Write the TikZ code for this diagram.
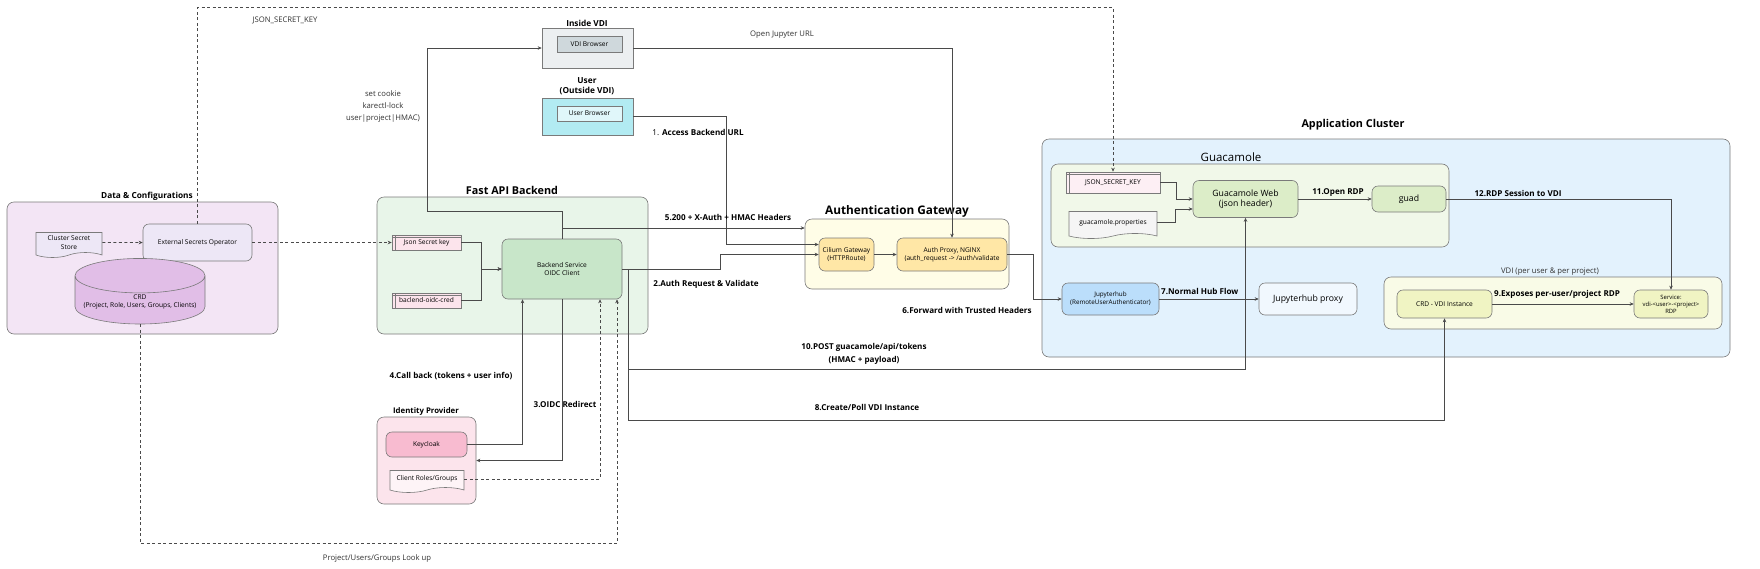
\documentclass[tikz,border=0pt]{standalone}
\usepackage{fontspec}
\setmainfont{Open Sans}
\usetikzlibrary{arrows.meta, positioning, shapes.geometric, shapes.symbols}

\definecolor{wire}{HTML}{4A4A4A}
\definecolor{rim}{HTML}{7A7A7A}
\definecolor{dataBg}{HTML}{F3E5F5}
\definecolor{apiBg}{HTML}{E8F5E9}
\definecolor{idpBg}{HTML}{FCE4EC}
\definecolor{gwBg}{HTML}{FFFDE7}
\definecolor{appBg}{HTML}{E3F2FD}
\definecolor{guacBg}{HTML}{F1F8E9}
\definecolor{vdiBg}{HTML}{F9FBE7}
\definecolor{lavender}{HTML}{EDE7F6}
\definecolor{crdPink}{HTML}{E1BEE7}
\definecolor{keyPink}{HTML}{FCE4EC}
\definecolor{mint}{HTML}{C8E6C9}
\definecolor{rose}{HTML}{F8BBD0}
\definecolor{amber}{HTML}{FFE7A6}
\definecolor{leaf}{HTML}{DCEDC8}
\definecolor{sky}{HTML}{BBDEFB}
\definecolor{lime}{HTML}{F0F4C3}
\definecolor{slate}{HTML}{ECEFF1}
\definecolor{slateDark}{HTML}{CFD8DC}
\definecolor{cyanBg}{HTML}{B2EBF2}
\definecolor{cyanLt}{HTML}{E0F7FA}

\begin{document}
\begin{tikzpicture}[
    x=1pt, y=-1pt,
    group/.style={draw=rim, rounded corners=7pt, line width=0.6pt},
    box/.style={draw=rim, rounded corners=6pt, line width=0.6pt, align=center, inner sep=1pt, font=\fontsize{6.6}{8.2}\selectfont},
    plain/.style={box, rounded corners=0pt},
    doc/.style={box, rounded corners=0pt, tape, tape bend top=none, tape bend bottom=in and out, tape bend height=5pt},
    store/.style={box, rounded corners=0pt, path picture={
        \draw[rim] ([xshift=3pt]path picture bounding box.north west) -- ([xshift=3pt]path picture bounding box.south west);
        \draw[rim] ([yshift=-2pt]path picture bounding box.north west) -- ([yshift=-2pt]path picture bounding box.north east);}},
    title/.style={font=\bfseries\fontsize{8.3}{10}\selectfont, align=center},
    big/.style={font=\bfseries\fontsize{10.8}{12}\selectfont},
    lbl/.style={font=\bfseries\fontsize{8.1}{13}\selectfont, align=center, inner sep=0pt},
    note/.style={font=\fontsize{7.7}{12}\selectfont, align=center, text=black!80, inner sep=0pt},
    edge/.style={-{Stealth[length=4pt, width=3.5pt]}, draw=wire, line width=0.6pt},
    dedge/.style={edge, dash pattern=on 3pt off 2.5pt}
]
    \useasboundingbox[fill=white] (0,0) rectangle (1760,568);

    % containers
    \node[group, fill=dataBg, minimum width=271, minimum height=132] (data) at (142.5,268) {};
    \node[group, fill=apiBg, minimum width=271, minimum height=137] (api) at (512.5,265.5) {};
    \node[group, fill=idpBg, minimum width=99, minimum height=87] (idp) at (426.5,460.5) {};
    \node[group, fill=gwBg, minimum width=204, minimum height=70] (gw) at (907,254) {};
    \node[group, fill=appBg, minimum width=688, minimum height=218] (app) at (1386,248) {};
    \node[group, fill=guacBg, minimum width=398, minimum height=83] (guac) at (1250,205.5) {};
    \node[group, fill=vdiBg, minimum width=338, minimum height=52] (vdi) at (1553,303) {};
    \node[group, rounded corners=0pt, fill=slate, minimum width=91, minimum height=40] (inside) at (587.5,48) {};
    \node[group, rounded corners=0pt, fill=cyanBg, minimum width=91, minimum height=37] (user) at (587.5,116.5) {};

    \node[title] (dataT) at (147,196) {Data \& Configurations};
    \node[title, big] (apiT) at (512,190) {Fast API Backend};
    \node[title, font=\bfseries\fontsize{7.8}{9}\selectfont] (idpT) at (426,411) {Identity Provider};
    \node[title] (insideT) at (587,23) {Inside VDI};
    \node[title] (userT) at (587,86) {User\\(Outside VDI)};
    \node[title, font=\bfseries\fontsize{11.8}{13}\selectfont] (gwT) at (897,211) {Authentication Gateway};
    \node[title, big] (appT) at (1353,125) {Application Cluster};
    \node[font=\fontsize{11.5}{13}\selectfont] (guacT) at (1231,157) {Guacamole};
    \node[note] (vdiT) at (1550,272) {VDI (per user \& per project)};

    % components
    \node[doc, fill=lavender, minimum width=66, minimum height=25] (css) at (69,242.5) {Cluster Secret\\Store};
    \node[box, fill=lavender, minimum width=109, minimum height=37] (eso) at (197.5,242.5) {External Secrets Operator};
    \node[box, cylinder, shape border rotate=90, aspect=0.3, rounded corners=0pt, fill=crdPink, minimum width=130, minimum height=47] (crd) at (140,301.5) {CRD\\(Project, Role, Users, Groups, Clients)};
    \node[store, fill=keyPink, minimum width=69, minimum height=15] (jsk) at (426.5,242.5) {Json Secret key};
    \node[store, fill=keyPink, minimum width=69, minimum height=15] (boc) at (426.5,300.5) {baclend-oidc-cred};
    \node[box, fill=mint, minimum width=120, minimum height=60] (backend) at (562,269) {Backend Service\\OIDC Client};
    \node[box, fill=rose, minimum width=81, minimum height=25] (kc) at (426.5,444.5) {Keycloak};
    \node[doc, fill=idpBg!40, minimum width=74, minimum height=22] (crg) at (427,479) {Client Roles/Groups};
    \node[plain, fill=slateDark, minimum width=65, minimum height=16] (vdib) at (589.5,44) {VDI Browser};
    \node[plain, fill=cyanLt, minimum width=65, minimum height=15] (userb) at (589.5,113.5) {User Browser};
    \node[box, fill=amber, minimum width=55, minimum height=33] (cilium) at (846.5,254.5) {Cilium Gateway\\(HTTPRoute)};
    \node[box, fill=amber, minimum width=110, minimum height=33] (authp) at (952,254.5) {Auth Proxy, NGINX\\(auth\_request -> /auth/validate};
    \node[store, fill=keyPink!60, minimum width=94, minimum height=21] (jsk2) at (1113,182.5) {JSON\_SECRET\_KEY};
    \node[doc, fill=black!4, minimum width=88, minimum height=27] (gprops) at (1113,222.5) {guacamole.properties};
    \node[box, fill=leaf, minimum width=105, minimum height=37, font=\fontsize{8.7}{10.5}\selectfont] (gweb) at (1245.5,199) {Guacamole Web\\(json header)};
    \node[box, fill=leaf, minimum width=74, minimum height=26, font=\fontsize{8.7}{10.5}\selectfont] (guad) at (1409,199) {guad};
    \node[box, fill=sky, minimum width=97, minimum height=32, font=\fontsize{6.3}{8}\selectfont] (jhub) at (1110.5,299) {Jupyterhub\\(RemoteUserAuthenticator)};
    \node[box, fill=appBg!50!white, minimum width=98, minimum height=32, font=\fontsize{8.7}{10.5}\selectfont] (jproxy) at (1308,299) {Jupyterhub proxy};
    \node[box, fill=lime, minimum width=95, minimum height=28] (crdvdi) at (1444.5,304) {CRD - VDI Instance};
    \node[box, fill=lime, minimum width=74, minimum height=28, font=\fontsize{5.9}{7}\selectfont] (svc) at (1671,304) {Service:\\vdi-<user>-<project>\\RDP};

    % request flow
    \coordinate (cookie) at (427,211);
    \draw[edge] (user.east) -- ++(93,0) |- ([yshift=10pt]cilium.west);
    \draw[edge] (backend.east) -- ++(98,0) |- (cilium.west);
    \draw[edge] (cilium) -- (authp);
    \draw[edge] (backend.south) |- (idp.east);
    \draw[edge] (kc.east) -| ([xshift=-39.5pt]backend.south);
    \draw[edge] (backend.north) |- ([yshift=26pt]gw.west);
    \draw[edge] (backend.north) |- (cookie) |- (inside.west);
    \draw[edge] (inside.east) -| (authp.north);
    \draw[edge] (authp.east) -- ++(26,0) |- (jhub.west);
    \draw[edge] (jhub) -- (jproxy);
    \draw[edge] (backend.east) -- ++(6,0) -- ++(0,151) -| (crdvdi.south);
    \draw[edge] (backend.east) -- ++(6,0) -- ++(0,100) -| (gweb.south);
    \draw[edge] (crdvdi) -- (svc);
    \draw[edge] (gweb) -- (guad);
    \draw[edge] (guad.east) -| (svc.north);
    \draw[edge] (jsk2.east) -- ++(16,0) |- (gweb.west);
    \draw[edge] (gprops.east) -- ++(18,0) |- ([yshift=-10pt]gweb.west);
    \draw[edge] (jsk.east) -- ++(20,0) |- (backend.west);
    \draw[edge] (boc.east) -- ++(20,0) |- (backend.west);

    % secrets and lookups
    \draw[dedge] (css) -- (eso);
    \draw[dedge] (eso) -- (jsk);
    \draw[dedge] (eso.north) -- ++(0,-216) -| (jsk2.north);
    \draw[dedge] (crg.east) -| ([xshift=38pt]backend.south);
    \draw[dedge] (crd.south) -- ++(0,219) -| ([xshift=55pt]backend.south);

    % labels
    \node[lbl] (l1) at (698,132) {{\mdseries 1.} Access Backend URL};
    \node[lbl] (l2) at (706,284) {2.Auth Request \& Validate};
    \node[lbl] (l3) at (565,404) {3.OIDC Redirect};
    \node[lbl] (l4) at (451,376) {4.Call back (tokens + user info)};
    \node[lbl] (l5) at (728,217) {5.200 + X-Auth + HMAC Headers};
    \node[lbl] (l6) at (967,310) {6.Forward with Trusted Headers};
    \node[lbl, anchor=west] (l7) at (1161,291) {7.Normal Hub Flow};
    \node[lbl] (l8) at (867,407) {8.Create/Poll VDI Instance};
    \node[lbl, anchor=west] (l9) at (1494,294) {9.Exposes per-user/project RDP};
    \node[lbl] (l10) at (864,353.5) {10.POST guacamole/api/tokens\\(HMAC + payload)};
    \node[lbl] (l11) at (1338,193) {11.Open RDP};
    \node[lbl] (l12) at (1518,193) {12.RDP Session to VDI};
    \node[note] (cookieL) at (383,107) {set cookie\\karectl-lock\\user|project|HMAC)};
    \node[note] (openL) at (782,35) {Open Jupyter URL};
    \node[note] (lookL) at (377,558) {Project/Users/Groups Look up};
    \node[note] (secretL) at (285,20) {JSON\_SECRET\_KEY};
\end{tikzpicture}
\end{document}
